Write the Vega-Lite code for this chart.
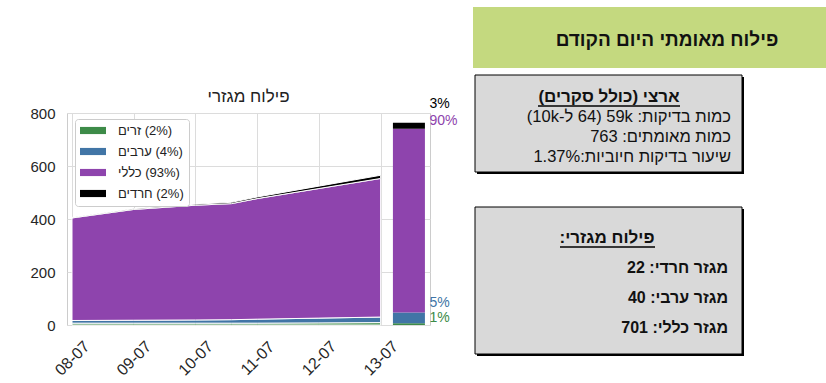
{
  "$schema": "https://vega.github.io/schema/vega-lite/v6.json",
  "width": 363,
  "height": 212,
  "autosize": {"type": "none"},
  "padding": {"left": 67, "top": 113, "right": 396, "bottom": 58},
  "background": "white",
  "config": {
    "font": "Liberation Sans",
    "view": {"stroke": "#cccccc"},
    "text": {"font": "Liberation Sans"}
  },
  "datasets": {
    "area": [
      {"date": "2020-07-08T00:00:00", "sector": "זרים", "order": 1, "count": 7},
      {"date": "2020-07-08T00:00:00", "sector": "ערבים", "order": 2, "count": 10},
      {"date": "2020-07-08T00:00:00", "sector": "כללי", "order": 3, "count": 387},
      {"date": "2020-07-08T00:00:00", "sector": "חרדים", "order": 4, "count": 2},
      {"date": "2020-07-09T00:00:00", "sector": "זרים", "order": 1, "count": 7},
      {"date": "2020-07-09T00:00:00", "sector": "ערבים", "order": 2, "count": 11},
      {"date": "2020-07-09T00:00:00", "sector": "כללי", "order": 3, "count": 418},
      {"date": "2020-07-09T00:00:00", "sector": "חרדים", "order": 4, "count": 3},
      {"date": "2020-07-10T00:00:00", "sector": "זרים", "order": 1, "count": 7},
      {"date": "2020-07-10T00:00:00", "sector": "ערבים", "order": 2, "count": 12},
      {"date": "2020-07-10T00:00:00", "sector": "כללי", "order": 3, "count": 433},
      {"date": "2020-07-10T00:00:00", "sector": "חרדים", "order": 4, "count": 4},
      {"date": "2020-07-10T14:00:00", "sector": "זרים", "order": 1, "count": 7},
      {"date": "2020-07-10T14:00:00", "sector": "ערבים", "order": 2, "count": 13},
      {"date": "2020-07-10T14:00:00", "sector": "כללי", "order": 3, "count": 438},
      {"date": "2020-07-10T14:00:00", "sector": "חרדים", "order": 4, "count": 5},
      {"date": "2020-07-11T00:00:00", "sector": "זרים", "order": 1, "count": 7},
      {"date": "2020-07-11T00:00:00", "sector": "ערבים", "order": 2, "count": 15},
      {"date": "2020-07-11T00:00:00", "sector": "כללי", "order": 3, "count": 455},
      {"date": "2020-07-11T00:00:00", "sector": "חרדים", "order": 4, "count": 6},
      {"date": "2020-07-12T00:00:00", "sector": "זרים", "order": 1, "count": 8},
      {"date": "2020-07-12T00:00:00", "sector": "ערבים", "order": 2, "count": 18},
      {"date": "2020-07-12T00:00:00", "sector": "כללי", "order": 3, "count": 489},
      {"date": "2020-07-12T00:00:00", "sector": "חרדים", "order": 4, "count": 9},
      {"date": "2020-07-13T00:00:00", "sector": "זרים", "order": 1, "count": 9},
      {"date": "2020-07-13T00:00:00", "sector": "ערבים", "order": 2, "count": 21},
      {"date": "2020-07-13T00:00:00", "sector": "כללי", "order": 3, "count": 523},
      {"date": "2020-07-13T00:00:00", "sector": "חרדים", "order": 4, "count": 12}
    ],
    "bar": [
      {"date": "2020-07-13T11:00:00", "sector": "זרים", "order": 1, "count": 7},
      {"date": "2020-07-13T11:00:00", "sector": "ערבים", "order": 2, "count": 40},
      {"date": "2020-07-13T11:00:00", "sector": "כללי", "order": 3, "count": 694},
      {"date": "2020-07-13T11:00:00", "sector": "חרדים", "order": 4, "count": 22}
    ],
    "pct": [
      {"sector": "חרדים", "label": "3%", "anchor": 834},
      {"sector": "כללי", "label": "90%", "anchor": 770},
      {"sector": "ערבים", "label": "5%", "anchor": 83},
      {"sector": "זרים", "label": "1%", "anchor": 26}
    ],
    "charttitle": [{"text": "\u202bפילוח מגזרי\u202c"}],
    "header": [{"text": "\u202bפילוח מאומתי היום הקודם\u202c"}],
    "box1": [
      {"line": 0, "text": "\u202bארצי (כולל סקרים)\u202c"},
      {"line": 1, "text": "\u202bכמות בדיקות: 59k \u200f(64 ל-10k)\u202c"},
      {"line": 2, "text": "\u202bכמות מאומתים: 763\u202c"},
      {"line": 3, "text": "\u202bשיעור בדיקות חיוביות:1.37%\u202c"}
    ],
    "box2": [
      {"line": 0, "text": "\u202bפילוח מגזרי:\u202c"},
      {"line": 1, "text": "\u202bמגזר חרדי: 22\u202c"},
      {"line": 2, "text": "\u202bמגזר ערבי: 40\u202c"},
      {"line": 3, "text": "\u202bמגזר כללי: 701\u202c"}
    ]
  },
  "resolve": {
    "scale": {"x": "independent", "y": "independent", "color": "independent"},
    "axis": {"x": "independent", "y": "independent"}
  },
  "layer": [
    {
      "layer": [
        {
          "data": {"name": "area"},
          "mark": {"type": "area", "stroke": "white", "strokeWidth": 1, "opacity": 1, "interpolate": "linear"},
          "encoding": {
            "x": {
              "field": "date", "type": "temporal",
              "scale": {"domain": [{"year": 2020, "month": 7, "date": 8}, {"year": 2020, "month": 7, "date": 13, "hours": 17, "minutes": 15}]},
              "axis": {"format": "%d-%m", "tickCount": {"interval": "day", "step": 1}, "labelAngle": -45, "labelAlign": "center", "labelBaseline": "middle", "labelPadding": 33, "ticks": false, "domain": false, "grid": true, "gridColor": "#dcdcdc", "labelFontSize": 16, "labelColor": "#262626", "labelFont": "Liberation Sans", "title": null, "labelOverlap": false}
            },
            "y": {
              "field": "count", "type": "quantitative", "stack": "zero",
              "scale": {"domain": [0, 800], "nice": false},
              "axis": {"values": [0, 200, 400, 600, 800], "title": null, "ticks": false, "domain": false, "grid": true, "gridColor": "#dcdcdc", "labelPadding": 12, "labelFontSize": 15, "labelColor": "#262626", "labelFont": "Liberation Sans"}
            },
            "color": {
              "field": "sector", "type": "nominal",
              "scale": {"domain": ["זרים", "ערבים", "כללי", "חרדים"], "range": ["#3d8b48", "#4175a6", "#8e44ad", "#000000"]},
              "legend": {
                "title": null, "orient": "none", "legendX": 8, "legendY": 6,
                "labelExpr": "{'זרים': '\u202b(2%) זרים\u202c', 'ערבים': '\u202b(4%) ערבים\u202c', 'כללי': '\u202b(93%) כללי\u202c', 'חרדים': '\u202b(2%) חרדים\u202c'}[datum.label]",
                "symbolType": "M-1,-0.55H3V0.55H-1Z", "symbolSize": 169, "symbolStrokeWidth": 0, "symbolOpacity": 1,
                "labelFontSize": 13, "labelFont": "Liberation Sans", "labelColor": "#222222", "labelOffset": 25,
                "fillColor": "white", "strokeColor": "#cccccc", "cornerRadius": 3, "padding": 5, "rowPadding": 7
              }
            },
            "order": {"field": "order", "type": "quantitative"}
          }
        },
        {
          "data": {"name": "bar"},
          "mark": {"type": "bar", "width": 32},
          "encoding": {
            "x": {"field": "date", "type": "temporal"},
            "y": {"field": "count", "type": "quantitative", "stack": "zero"},
            "color": {"field": "sector", "type": "nominal"},
            "order": {"field": "order", "type": "quantitative"}
          }
        },
        {
          "data": {"name": "pct"},
          "mark": {"type": "text", "align": "left", "baseline": "middle", "fontSize": 14, "font": "Liberation Sans"},
          "encoding": {
            "x": {"datum": {"year": 2020, "month": 7, "date": 13, "hours": 19}, "type": "temporal"},
            "y": {"field": "anchor", "type": "quantitative", "stack": null},
            "text": {"field": "label"},
            "color": {"field": "sector", "type": "nominal"}
          }
        }
      ]
    },
    {
      "data": {"name": "charttitle"},
      "mark": {"type": "text", "fontSize": 17, "align": "center", "baseline": "middle", "color": "#222222"},
      "encoding": {
        "x": {"datum": 248.5, "type": "quantitative", "scale": {"domain": [0, 826], "range": [-67, 759], "nice": false, "zero": false}, "axis": null},
        "y": {"datum": 97, "type": "quantitative", "scale": {"domain": [0, 383], "range": [-113, 270], "nice": false, "zero": false}, "axis": null},
        "text": {"field": "text"}
      }
    },
    {
      "data": {"name": "header"},
      "layer": [
        {
          "mark": {"type": "rect", "fill": "#c4d97f"},
          "encoding": {
            "x": {"datum": 473, "type": "quantitative", "scale": {"domain": [0, 826], "range": [-67, 759], "nice": false, "zero": false}, "axis": null},
            "x2": {"datum": 826},
            "y": {"datum": 7, "type": "quantitative", "scale": {"domain": [0, 383], "range": [-113, 270], "nice": false, "zero": false}, "axis": null},
            "y2": {"datum": 68}
          }
        },
        {
          "mark": {"type": "text", "fontWeight": "bold", "fontSize": 19, "align": "center", "baseline": "middle", "color": "#111111"},
          "encoding": {
            "x": {"datum": 667, "type": "quantitative"},
            "y": {"datum": 40, "type": "quantitative"},
            "text": {"field": "text"}
          }
        }
      ]
    },
    {
      "data": {"name": "box1"},
      "layer": [
        {
          "transform": [{"filter": "datum.line == 0"}],
          "mark": {"type": "rect", "fill": "#000000"},
          "encoding": {
            "x": {"datum": 477, "type": "quantitative", "scale": {"domain": [0, 826], "range": [-67, 759], "nice": false, "zero": false}, "axis": null},
            "x2": {"datum": 744},
            "y": {"datum": -1.0, "type": "quantitative", "scale": {"domain": [0, 3], "range": [-16, 44], "nice": false, "zero": false}, "axis": null},
            "y2": {"datum": 3.85}
          }
        },
        {
          "transform": [{"filter": "datum.line == 0"}],
          "mark": {"type": "rect", "fill": "#d9d9d9", "stroke": "#000000", "strokeWidth": 1},
          "encoding": {
            "x": {"datum": 475, "type": "quantitative"},
            "x2": {"datum": 742},
            "y": {"datum": -1.1, "type": "quantitative"},
            "y2": {"datum": 3.75}
          }
        },
        {
          "transform": [{"filter": "datum.line == 0"}],
          "mark": {"type": "rule", "stroke": "#000000", "strokeWidth": 1.5},
          "encoding": {
            "x": {"datum": 538, "type": "quantitative"},
            "x2": {"datum": 680},
            "y": {"datum": 0.45, "type": "quantitative"}
          }
        },
        {
          "transform": [{"filter": "datum.line == 0"}],
          "mark": {"type": "text", "fontWeight": "bold", "fontSize": 17, "align": "center", "baseline": "middle", "color": "#111111"},
          "encoding": {
            "x": {"datum": 609, "type": "quantitative"},
            "y": {"field": "line", "type": "quantitative"},
            "text": {"field": "text"}
          }
        },
        {
          "transform": [{"filter": "datum.line > 0"}],
          "mark": {"type": "text", "fontSize": 16.5, "align": "right", "baseline": "middle", "color": "#111111"},
          "encoding": {
            "x": {"datum": 731, "type": "quantitative"},
            "y": {"field": "line", "type": "quantitative"},
            "text": {"field": "text"}
          }
        }
      ]
    },
    {
      "data": {"name": "box2"},
      "layer": [
        {
          "transform": [{"filter": "datum.line == 0"}],
          "mark": {"type": "rect", "fill": "#000000"},
          "encoding": {
            "x": {"datum": 477, "type": "quantitative", "scale": {"domain": [0, 826], "range": [-67, 759], "nice": false, "zero": false}, "axis": null},
            "x2": {"datum": 744},
            "y": {"datum": -0.966, "type": "quantitative", "scale": {"domain": [0, 3], "range": [125, 215], "nice": false, "zero": false}, "axis": null},
            "y2": {"datum": 3.934}
          }
        },
        {
          "transform": [{"filter": "datum.line == 0"}],
          "mark": {"type": "rect", "fill": "#d9d9d9", "stroke": "#000000", "strokeWidth": 1},
          "encoding": {
            "x": {"datum": 475, "type": "quantitative"},
            "x2": {"datum": 742},
            "y": {"datum": -1.033, "type": "quantitative"},
            "y2": {"datum": 3.867}
          }
        },
        {
          "transform": [{"filter": "datum.line == 0"}],
          "mark": {"type": "rule", "stroke": "#000000", "strokeWidth": 1.5},
          "encoding": {
            "x": {"datum": 560, "type": "quantitative"},
            "x2": {"datum": 655},
            "y": {"datum": 0.3, "type": "quantitative"}
          }
        },
        {
          "transform": [{"filter": "datum.line == 0"}],
          "mark": {"type": "text", "fontWeight": "bold", "fontSize": 17, "align": "center", "baseline": "middle", "color": "#111111"},
          "encoding": {
            "x": {"datum": 607, "type": "quantitative"},
            "y": {"field": "line", "type": "quantitative"},
            "text": {"field": "text"}
          }
        },
        {
          "transform": [{"filter": "datum.line > 0"}],
          "mark": {"type": "text", "fontWeight": "bold", "fontSize": 16, "align": "right", "baseline": "middle", "color": "#111111"},
          "encoding": {
            "x": {"datum": 728, "type": "quantitative"},
            "y": {"field": "line", "type": "quantitative"},
            "text": {"field": "text"}
          }
        }
      ]
    }
  ]
}
